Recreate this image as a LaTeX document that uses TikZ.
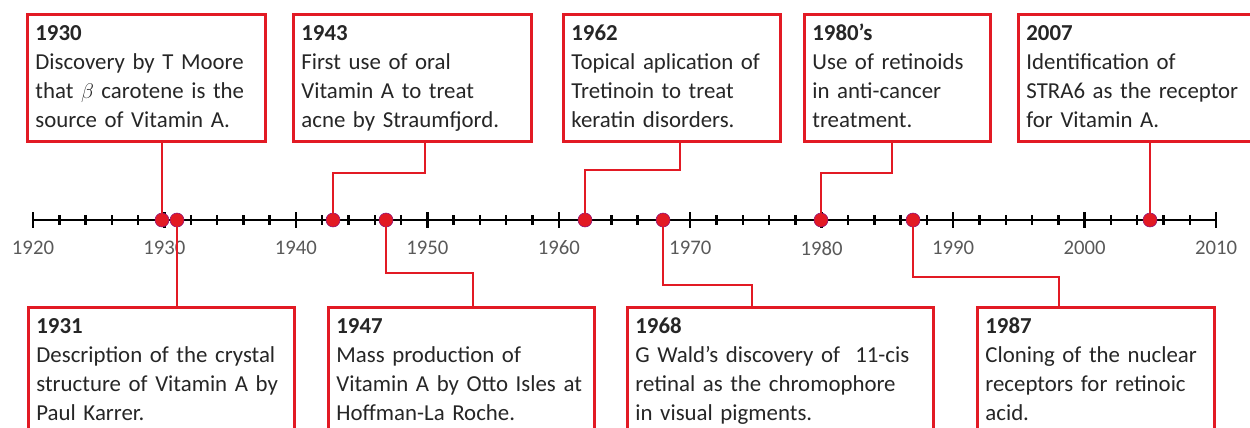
\documentclass[tikz,border=0pt]{standalone}
\usepackage{fontspec}
\setmainfont{Carlito}
\definecolor{vred}{RGB}{226,26,36}
\definecolor{axisgray}{RGB}{89,89,89}
\tikzset{
  evbox/.style={draw=vred, line width=1.6pt, fill=white, anchor=north west,
    text width=#1, inner xsep=0.16cm, inner ysep=0pt, minimum height=2.54cm,
    align=left, text=black!85, font=\fontsize{13}{16.5}\selectfont,
    execute at begin node=\strut, execute at end node=\strut},
  conn/.style={draw=vred, line width=1.6pt},
  evdot/.style={circle, fill=vred, draw=blue!40!vred, line width=0.3pt,
    inner sep=0pt, minimum size=0.28cm},
  yearlbl/.style={text=axisgray, font=\fontsize{11.8}{13}\selectfont},
}

\begin{document}
\begin{tikzpicture}[x=0.02cm, y=-0.02cm]
  \clip (0,0) rectangle (1250,427);
  % axis with ticks
  \draw[line width=1.5pt] (33,220) -- (1216,220);
  \foreach \yr in {1920,1922,...,2010} {
    \pgfmathsetmacro{\px}{33+(\yr-1920)*13.145}
    \draw[line width=1.4pt] (\px,215) -- (\px,225);
  }
  \foreach \yr in {1920,1930,...,2010} {
    \pgfmathsetmacro{\px}{33+(\yr-1920)*13.145}
    \draw[line width=1.4pt] (\px,212) -- (\px,228);
    \node[yearlbl] (yr\yr) at (\px,248) {\yr};
  }
  % events on the axis
  \node[evdot] (d1930) at (162,220) {};
  \node[evdot] (d1931) at (177,220) {};
  \node[evdot] (d1943) at (333,220) {};
  \node[evdot] (d1947) at (386,220) {};
  \node[evdot] (d1962) at (585,220) {};
  \node[evdot] (d1968) at (663,220) {};
  \node[evdot] (d1980) at (821,220) {};
  \node[evdot] (d1987) at (913,220) {};
  \node[evdot] (d2005) at (1150,220) {};
  % boxes above
  \node[evbox=4.44cm] (b1930) at (26,13)
    {\textbf{1930}\\Discovery by T Moore\\that $\beta$ carotene is the\\source of Vitamin A.};
  \node[evbox=4.44cm] (b1943) at (292,13)
    {\textbf{1943}\\First use of oral\\Vitamin A to treat\\acne by Straumfjord.};
  \node[evbox=4.02cm] (b1962) at (562,13)
    {\textbf{1962}\\Topical aplication of\\Tretinoin to treat\\keratin disorders.};
  \node[evbox=3.40cm] (b1980) at (803,13)
    {\textbf{1980’s}\\Use of retinoids\\in anti-cancer\\treatment.};
  \node[evbox=4.88cm] (b2007) at (1017,13)
    {\textbf{2007}\\Identification of\\STRA6 as the receptor\\for Vitamin A.};
  % boxes below
  \node[evbox=5.00cm] (b1931) at (27,306)
    {\textbf{1931}\\Description of the crystal\\structure of Vitamin A by\\Paul Karrer.};
  \node[evbox=5.00cm] (b1947) at (327,306)
    {\textbf{1947}\\Mass production of\\Vitamin A by Otto Isles at\\Hoffman-La Roche.};
  \node[evbox=5.80cm] (b1968) at (626,306)
    {\textbf{1968}\\G Wald’s discovery of~ 11-cis\\retinal as the chromophore\\in visual pigments.};
  \node[evbox=4.42cm] (b1987) at (976,306)
    {\textbf{1987}\\Cloning of the nuclear\\receptors for retinoic\\acid.};
  % elbows
  \coordinate (k1943) at (425,173);
  \coordinate (k1962) at (680,170);
  \coordinate (k1980) at (892,173);
  \coordinate (k1947) at (473,273);
  \coordinate (k1968) at (752,285);
  \coordinate (k1987) at (1059,277);
  % connectors
  \draw[conn] (b1930.south -| d1930) -- (d1930.center);
  \draw[conn] (b1943.south -| k1943) -- (k1943) -| (d1943.center);
  \draw[conn] (b1962.south -| k1962) -- (k1962) -| (d1962.center);
  \draw[conn] (b1980.south -| k1980) -- (k1980) -| (d1980.center);
  \draw[conn] (b2007.south -| d2005) -- (d2005.center);
  \draw[conn] (d1931.center) -- (b1931.north -| d1931);
  \draw[conn] (d1947.center) |- (k1947) -- (b1947.north -| k1947);
  \draw[conn] (d1968.center) |- (k1968) -- (b1968.north -| k1968);
  \draw[conn] (d1987.center) |- (k1987) -- (b1987.north -| k1987);
\end{tikzpicture}
\end{document}
